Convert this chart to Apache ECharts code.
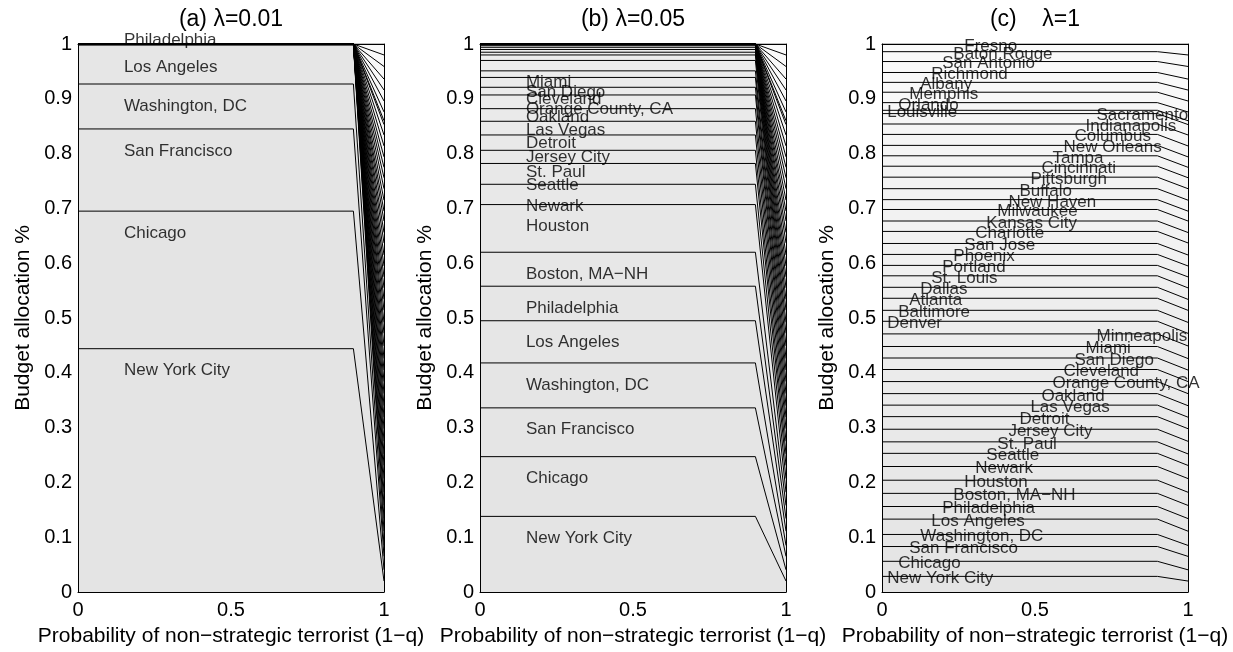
<!DOCTYPE html>
<html>
<head>
<meta charset="utf-8">
<script src="https://cdn.jsdelivr.net/npm/echarts@6/dist/echarts.min.js"></script>
<style>
  html, body { margin: 0; padding: 0; background: #fff; }
  #chart { width: 1233px; height: 652px; }
</style>
</head>
<body>
<div id="chart"></div>
<script>
// Urban areas, bottom of the stack first
const cities = [
  "New York City", "Chicago", "San Francisco", "Washington, DC", "Los Angeles",
  "Philadelphia", "Boston, MA\u2212NH", "Houston", "Newark", "Seattle",
  "St. Paul", "Jersey City", "Detroit", "Las Vegas", "Oakland",
  "Orange County, CA", "Cleveland", "San Diego", "Miami", "Minneapolis",
  "Denver", "Baltimore", "Atlanta", "Dallas", "St. Louis",
  "Portland", "Phoenix", "San Jose", "Charlotte", "Kansas City",
  "Milwaukee", "New Haven", "Buffalo", "Pittsburgh", "Cincinnati",
  "Tampa", "New Orleans", "Columbus", "Indianapolis", "Sacramento",
  "Louisville", "Orlando", "Memphis", "Albany", "Richmond",
  "San Antonio", "Baton Rouge", "Fresno"
];

// Sampled values of the probability of a non-strategic terrorist (1-q)
const probs = [0, 0.9, 1];

// Budget shares while the strategic terrorist dominates (1-q <= 0.9)
const allocLambda001 = [
  0.444, 0.251, 0.150, 0.082, 0.071, 0.002, 0, 0, 0, 0,
  0, 0, 0, 0, 0, 0, 0, 0, 0, 0,
  0, 0, 0, 0, 0, 0, 0, 0, 0, 0,
  0, 0, 0, 0, 0, 0, 0, 0, 0, 0,
  0, 0, 0, 0, 0, 0, 0, 0
];
const allocLambda005 = [
  0.138, 0.109, 0.089, 0.082, 0.077, 0.063, 0.062, 0.087, 0.037, 0.038,
  0.024, 0.028, 0.025, 0.023, 0.025, 0.014, 0.018, 0.012, 0.019, 0.010,
  0.005, 0.005, 0.004, 0.003, 0.003, 0, 0, 0, 0, 0,
  0, 0, 0, 0, 0, 0, 0, 0, 0, 0,
  0, 0, 0, 0, 0, 0, 0, 0
];
const allocLambda1 = [
  0.0285, 0.0275, 0.027, 0.022, 0.028, 0.023, 0.024, 0.024, 0.025, 0.024,
  0.021, 0.023, 0.023, 0.021, 0.021, 0.022, 0.022, 0.021, 0.021, 0.023,
  0.023, 0.020, 0.022, 0.020, 0.021, 0.019, 0.020, 0.020, 0.022, 0.019,
  0.021, 0.018, 0.020, 0.021, 0.020, 0.019, 0.019, 0.020, 0.019, 0.019,
  0.006, 0.014, 0.019, 0.018, 0.018, 0.020, 0.018, 0.014
];
// Budget shares when every terrorist is non-strategic (1-q = 1)
const allocNonStrategic = [
  0.020, 0.0205, 0.0245, 0.020, 0.026, 0.023, 0.024, 0.024, 0.025, 0.024,
  0.021, 0.023, 0.023, 0.021, 0.021, 0.022, 0.022, 0.021, 0.021, 0.023,
  0.023, 0.020, 0.022, 0.020, 0.021, 0.020, 0.020, 0.020, 0.022, 0.019,
  0.021, 0.018, 0.020, 0.021, 0.020, 0.019, 0.019, 0.020, 0.020, 0.019,
  0.007, 0.016, 0.020, 0.020, 0.020, 0.023, 0.021, 0.020
];

const xTicks = [0, 0.5, 1];
const yTicks = [0, 0.1, 0.2, 0.3, 0.4, 0.5, 0.6, 0.7, 0.8, 0.9, 1];

const FONT = "'Liberation Sans', Arial, Helvetica, sans-serif";
const panels = [
  { title: "(a) \u03bb=0.01", alloc: allocLambda001, left: 78, labelCount: 6, mode: "band" },
  { title: "(b) \u03bb=0.05", alloc: allocLambda005, left: 480, labelCount: 19, mode: "band" },
  { title: "(c)    \u03bb=1", alloc: allocLambda1, left: 882, labelCount: cities.length, mode: "stair" }
];
const GRID_TOP = 44, GRID_H = 550, GRID_W = 306;

function fillShade(i) {
  const g = Math.round(228 + 22 * i / (cities.length - 1));
  return "rgb(" + g + "," + g + "," + g + ")";
}

// running totals, so each city's band sits on top of the ones below it
function cumulative(arr) {
  let s = 0;
  return arr.map(v => (s += v));
}

const grids = [], xAxes = [], yAxes = [], series = [], graphics = [];
const N = cities.length;
const topsNonStrategic = cumulative(allocNonStrategic);

panels.forEach((p, k) => {
  grids.push({ left: p.left, top: GRID_TOP, width: GRID_W, height: GRID_H, show: false });

  xAxes.push({
    gridIndex: k, type: "value", min: 0, max: 1, interval: 0.5, z: 150,
    axisLine: { show: true, onZero: false, lineStyle: { color: "#000", width: 1 } },
    axisTick: { show: false }, splitLine: { show: false },
    axisLabel: { color: "#000", fontSize: 20, fontFamily: FONT, margin: 8,
                 formatter: v => xTicks.includes(v) ? String(v) : "" },
    name: "Probability of non\u2212strategic terrorist (1\u2212q)",
    nameLocation: "middle", nameGap: 34,
    nameTextStyle: { color: "#000", fontSize: 21, fontFamily: FONT }
  });
  xAxes.push({
    gridIndex: k, type: "value", min: 0, max: 1, position: "top", z: 150,
    axisLine: { show: true, onZero: false, lineStyle: { color: "#000", width: 1 } },
    axisTick: { show: false }, axisLabel: { show: false }, splitLine: { show: false }
  });
  yAxes.push({
    gridIndex: k, type: "value", min: 0, max: 1, interval: 0.1, z: 150,
    axisLine: { show: true, onZero: false, lineStyle: { color: "#000", width: 1 } },
    axisTick: { show: false }, splitLine: { show: false },
    axisLabel: { color: "#000", fontSize: 20, fontFamily: FONT, margin: 6,
                 formatter: v => yTicks.some(t => Math.abs(t - v) < 1e-9) ? String(+v.toFixed(1)) : "" },
    name: "Budget allocation %", nameLocation: "middle", nameGap: 44, nameRotate: 90,
    nameTextStyle: { color: "#000", fontSize: 21, fontFamily: FONT }
  });
  yAxes.push({
    gridIndex: k, type: "value", min: 0, max: 1, position: "right", z: 150,
    axisLine: { show: true, onZero: false, lineStyle: { color: "#000", width: 1 } },
    axisTick: { show: false }, axisLabel: { show: false }, splitLine: { show: false }
  });

  const tops = cumulative(p.alloc);

  // filled bands: drawn from the top of the stack downwards, each filling to zero
  for (let i = N - 1; i >= 0; i--) {
    series.push({
      type: "line", name: cities[i], xAxisIndex: 2 * k, yAxisIndex: 2 * k,
      data: [[probs[0], tops[i]], [probs[1], tops[i]], [probs[2], topsNonStrategic[i]]],
      symbol: "none", silent: true, z: 5,
      lineStyle: { width: 0, opacity: 0 },
      areaStyle: { color: fillShade(i), opacity: 1, origin: "start" }
    });
  }
  // band edges
  for (let i = 0; i < N; i++) {
    series.push({
      type: "line", xAxisIndex: 2 * k, yAxisIndex: 2 * k,
      data: [[probs[0], tops[i]], [probs[1], tops[i]], [probs[2], topsNonStrategic[i]]],
      symbol: "none", silent: true, z: 20,
      lineStyle: { color: "#000", width: 1 }
    });
  }

  // city names
  const labelData = [];
  for (let i = 0; i < p.labelCount; i++) {
    let x, y;
    if (p.mode === "band") {
      x = 0.15;
      y = tops[i] - 0.04;
      // a sliver at the top of the stack gets its name just above the frame
      if (p.alloc[i] < 0.01) y = tops[i] + 0.007;
    } else {
      x = 0.017 + 0.036 * (i % 20);
      y = tops[i] - 0.004;
    }
    labelData.push({ name: cities[i], value: [x, y] });
  }
  series.push({
    type: "scatter", xAxisIndex: 2 * k, yAxisIndex: 2 * k, z: 100, silent: true,
    clip: false, symbolSize: 0, data: labelData,
    label: { show: true, position: "right", distance: 0, formatter: "{b}",
             color: "#000", fontSize: 17, fontFamily: FONT, verticalAlign: "middle" }
  });

  graphics.push({
    type: "text", x: p.left + GRID_W / 2, y: 8, z: 100,
    style: { text: p.title, fill: "#000", font: "23px " + FONT, textAlign: "center" }
  });
});

const chart = echarts.init(document.getElementById("chart"), null, { renderer: "canvas" });
chart.setOption({
  animation: false,
  backgroundColor: "#fff",
  grid: grids, xAxis: xAxes, yAxis: yAxes, series: series,
  graphic: graphics
});
</script>
</body>
</html>
